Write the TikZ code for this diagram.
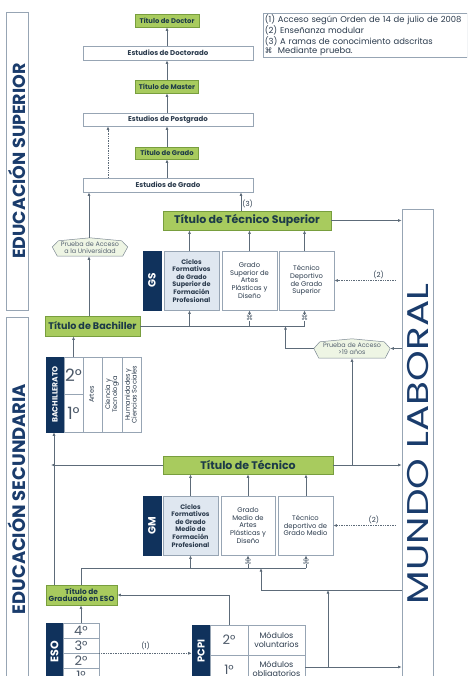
\documentclass[tikz,border=0pt]{standalone}
\usepackage{fontspec}
\setmainfont{Poppins}
\newfontfamily\symf{DejaVu Sans}
\usetikzlibrary{arrows.meta}
\definecolor{navyf}{HTML}{10325C}
\definecolor{navyt}{HTML}{1A3C6C}
\definecolor{greenf}{HTML}{A8CB5E}
\definecolor{greenb}{HTML}{789E3E}
\definecolor{lightf}{HTML}{DFE7F0}
\definecolor{boxc}{HTML}{97A5B4}
\definecolor{linec}{HTML}{5D6B79}
\definecolor{txt}{HTML}{2B3B4D}
\definecolor{gtxt}{HTML}{1C3A48}
\definecolor{hexf}{HTML}{EEF5E4}
\newcommand{\rtx}[1]{\rotatebox{90}{\renewcommand{\arraystretch}{0.8}\begin{tabular}{@{}c@{}}#1\end{tabular}}}
\begin{document}
\begin{tikzpicture}[x=1pt,y=-1pt,
  box/.style={draw=boxc, line width=0.6pt, inner sep=0pt, align=center, text=txt},
  wbox/.style={box, fill=white},
  lbox/.style={box, fill=lightf, font=\bfseries\fontsize{6.5}{7.6}\selectfont},
  rbox/.style={box, fill=white, font=\fontsize{6.8}{7.6}\selectfont},
  ebox/.style={box, fill=white, font=\bfseries\fontsize{7}{7}\selectfont},
  gbox/.style={draw=greenb, fill=greenf, line width=0.6pt, inner sep=0pt, align=center, text=gtxt, font=\bfseries\fontsize{6.8}{7}\selectfont},
  nbox/.style={fill=navyf, draw=navyf, text=white, inner sep=0pt, font=\bfseries},
  cell/.style={box, fill=white, font=\fontsize{14}{14}\selectfont, text=txt!85},
  hexn/.style={inner sep=0pt, align=center, text=txt!80, font=\fontsize{6.4}{6.8}\selectfont},
  hexs/.style={draw=linec!80, fill=hexf, line width=0.5pt},
  ln/.style={draw=linec, line width=0.7pt},
  arr/.style={ln, -{Latex[length=3.6pt,width=3pt]}},
  darr/.style={arr, densely dotted},
  lab/.style={font=\fontsize{7}{7}\selectfont, text=txt, inner sep=1pt},
  mk/.style={font=\symf\fontsize{7}{7}\selectfont, text=linec, fill=white, inner sep=0pt}
]
\useasboundingbox (0,0) rectangle (467,676);
\clip (0,0) rectangle (467,676);
\fill[white] (0,0) rectangle (467,676);

% legend
\node[box, anchor=north west, minimum width=204pt, minimum height=44pt, text width=201pt, align=left,
      font=\fontsize{8.4}{9.4}\selectfont, text=txt] (leg) at (263,13)
  {(1) Acceso según Orden de 14 de julio de 2008\\(2) Enseñanza modular\\(3) A ramas de conocimiento adscritas\\{\symf\fontsize{7.5}{7.5}\selectfont ⌘}\ \ Mediante prueba.};

% side boxes
\node[box, minimum width=22pt, minimum height=298pt] (sup) at (17,161) {};
\node[text=navyt, font=\bfseries\fontsize{17.5}{17.5}\selectfont, inner sep=0pt] (suptxt) at (sup.center) {\rotatebox{90}{EDUCACIÓN SUPERIOR}};
\node[box, minimum width=22pt, minimum height=383pt] (sec) at (17,508.5) {};
\node[text=navyt, font=\bfseries\fontsize{18}{18}\selectfont, inner sep=0pt] (sectxt) at (17,499) {\rotatebox{90}{EDUCACIÓN SECUNDARIA}};
\node[box, minimum width=31pt, minimum height=491pt] (mundo) at (417.5,454.5) {};
\node[text=navyt, font=\fontsize{30}{30}\selectfont, inner sep=0pt] (mundotxt) at (418,444) {\rotatebox{90}{\scalebox{1.3}[1]{MUNDO LABORAL}}};

% university column
\node[gbox, minimum width=64pt, minimum height=13pt] (doc) at (167,20.5) {Título de Doctor};
\node[ebox, minimum width=170pt, minimum height=14pt] (edoc) at (168,53) {Estudios de Doctorado};
\node[gbox, minimum width=63pt, minimum height=13pt] (mas) at (167,86.5) {Título de Master};
\node[ebox, minimum width=170pt, minimum height=13pt] (epos) at (168,119.5) {Estudios de Postgrado};
\node[gbox, minimum width=63pt, minimum height=12pt] (gra) at (167,153) {Título de Grado};
\node[ebox, minimum width=170pt, minimum height=14pt] (egra) at (168,185) {Estudios de Grado};

\draw[arr] (edoc.north -| doc.south) -- (doc.south);
\draw[arr] (mas.north) -- (edoc.south -| mas.north);
\draw[arr] (epos.north -| mas.south) -- (mas.south);
\draw[arr] (gra.north) -- (epos.south -| gra.north);
\draw[arr] (egra.north -| gra.south) -- (gra.south);
\coordinate (dx) at (108,0);
\draw[darr] (egra.north -| dx) -- (epos.south -| dx);

% prueba acceso universidad
\node[hexn, minimum width=75pt, minimum height=18pt] (pua) at (90,247) {};
\path[hexs] (pua.west) -- ([xshift=6pt,yshift=-3pt]pua.north west) -- (pua.north) -- ([xshift=-6pt,yshift=-3pt]pua.north east) -- (pua.east) -- ([xshift=-5pt]pua.south east) -- ([xshift=5pt]pua.south west) -- cycle;
\node[hexn] (puat) at (90,247.5) {Prueba de Acceso\\a la Universidad};

% Tecnico superior
\node[gbox, minimum width=168pt, minimum height=19pt, font=\bfseries\fontsize{11}{11}\selectfont] (tts) at (247,220.5) {Título de Técnico Superior};
\node[nbox, minimum width=18pt, minimum height=59pt, font=\bfseries\fontsize{10.5}{10.5}\selectfont] (gs) at (152,280.5) {\rotatebox{90}{GS}};
\node[lbox, minimum width=55pt, minimum height=59pt] (cgs) at (191.5,280.5) {Ciclos\\Formativos\\de Grado\\Superior de\\Formación\\Profesional};
\node[rbox, minimum width=55pt, minimum height=59pt] (ags) at (249.5,280.5) {Grado\\Superior de\\Artes\\Plásticas y\\Diseño};
\node[rbox, minimum width=55pt, minimum height=59pt] (dgs) at (306.5,280.5) {Técnico\\Deportivo\\de Grado\\Superior};

\coordinate (tx) at (241,0);
\draw[arr] (tts.north -| tx) -- node[lab, right, pos=0.35] {(3)} (egra.south -| tx);
\draw[arr] (tts.east) -- (tts.east -| mundo.west);
\coordinate (c1) at (189.5,0);
\coordinate (c2) at (249.5,0);
\coordinate (c3) at (304.5,0);
\draw[arr] (cgs.north -| c1) -- (tts.south -| c1);
\draw[arr] (ags.north -| c2) -- (tts.south -| c2);
\draw[arr] (dgs.north -| c3) -- (tts.south -| c3);
\draw[darr] ([xshift=-6pt]mundo.west |- dgs.east) -- node[lab, above, pos=0.28] {(2)} (dgs.east);

% Bachiller
\node[gbox, minimum width=95pt, minimum height=20pt, font=\bfseries\fontsize{9.6}{9.6}\selectfont] (bach) at (92.5,326) {Título de Bachiller};
\draw[ln] (bach.east) -- (bach.east -| c3);
\draw[arr] (bach.east -| c1) -- (cgs.south -| c1);
\draw[arr] (bach.east -| c2) -- node[mk] (m1) {⌘} (ags.south -| c2);
\draw[arr] (bach.east -| c3) -- node[mk] (m2) {⌘} (dgs.south -| c3);
\coordinate (lx) at (89,0);
\draw[arr] (bach.north -| lx) -- (pua.south -| lx);
\draw[arr] (pua.north -| lx) -- (egra.south -| lx);

% prueba >19
\node[hexn, minimum width=76pt, minimum height=19pt] (p19) at (352,348.5) {};
\path[hexs] (p19.west) -- ([xshift=6pt,yshift=-3pt]p19.north west) -- (p19.north) -- ([xshift=-6pt,yshift=-3pt]p19.north east) -- (p19.east) -- ([xshift=-5pt]p19.south east) -- ([xshift=5pt]p19.south west) -- cycle;
\node[hexn] (p19t) at (352,349) {Prueba de Acceso\\>19 años};
\draw[arr] (mundo.west |- p19.east) -- (p19.east);
\coordinate (px) at (285.5,0);
\draw[arr] (p19.west) -| (bach.east -| px);

% Bachillerato block
\node[nbox, minimum width=18pt, minimum height=75pt, font=\bfseries\fontsize{7.6}{7.6}\selectfont] (bato) at (55,394.5) {\rotatebox{90}{BACHILLERATO}};
\node[cell, minimum width=19pt, minimum height=37pt, font=\fontsize{17}{17}\selectfont] (b2) at (73.5,375.5) {2°};
\node[cell, minimum width=19pt, minimum height=38pt, font=\fontsize{17}{17}\selectfont] (b1) at (73.5,413) {1°};
\node[box, fill=white, minimum width=19pt, minimum height=75pt, font=\fontsize{6.6}{7}\selectfont] (artes) at (92.5,394.5) {\rtx{Artes}};
\node[box, fill=white, minimum width=20pt, minimum height=75pt, font=\fontsize{6.6}{7}\selectfont] (cyt) at (112,394.5) {\rtx{Ciencia y\\Tecnología}};
\node[box, fill=white, minimum width=19pt, minimum height=75pt, font=\fontsize{6.6}{7}\selectfont] (hcs) at (131.5,394.5) {\rtx{Humanidades y\\Ciencias Sociales}};
\draw[arr] (b2.north) -- (bach.south -| b2.north);

% Tecnico
\node[gbox, minimum width=170pt, minimum height=18pt, font=\bfseries\fontsize{11}{11}\selectfont] (tt) at (248,465) {Título de Técnico};
\node[nbox, minimum width=18pt, minimum height=59pt, font=\bfseries\fontsize{10.5}{10.5}\selectfont] (gm) at (152,525.5) {\rotatebox{90}{GM}};
\node[lbox, minimum width=55pt, minimum height=59pt] (cgm) at (190.5,525.5) {Ciclos\\Formativos\\de Grado\\Medio de\\Formación\\Profesional};
\node[rbox, minimum width=54pt, minimum height=59pt] (agm) at (248,525.5) {Grado\\Medio de\\Artes\\Plásticas y\\Diseño};
\node[rbox, minimum width=55pt, minimum height=59pt] (dgm) at (305.5,525.5) {Técnico\\deportivo de\\Grado Medio};
\coordinate (g1) at (190.5,0);
\coordinate (g2) at (248,0);
\coordinate (g3) at (306,0);
\draw[arr] (cgm.north -| g1) -- (tt.south -| g1);
\draw[arr] (agm.north -| g2) -- (tt.south -| g2);
\draw[arr] (dgm.north -| g3) -- (tt.south -| g3);
\draw[darr] ([xshift=-6pt]mundo.west |- dgm.east) -- node[lab, above, pos=0.35] {(2)} (dgm.east);
\draw[arr] (tt.east) -- (tt.east -| mundo.west);
\draw[arr] (tt.east -| p19.south) -- (p19.south);
\coordinate (vx) at (54,0);
\draw[arr] (tt.west) -- ([xshift=-3pt]tt.west -| vx);

% Graduado ESO
\node[gbox, minimum width=71pt, minimum height=20pt, font=\bfseries\fontsize{7.4}{7.8}\selectfont] (geso) at (81.5,595) {Título de\\Graduado en ESO};
\draw[arr] (geso.north -| vx) -- (bato.south -| vx);
\coordinate (h2) at (0,568);
\draw[ln] (geso.north) -- (geso.north |- h2) -- (h2 -| g3);
\draw[arr] (h2 -| g1) -- (cgm.south -| g1);
\draw[arr] (h2 -| g2) -- node[mk] (m3) {⌘} (agm.south -| g2);
\draw[arr] (h2 -| g3) -- node[mk] (m4) {⌘} (dgm.south -| g3);
\coordinate (mx) at (261,0);
\coordinate (h3) at (0,590);
\draw[arr] (mundo.west |- h3) -| (h2 -| mx);

% ESO
\node[nbox, minimum width=17pt, minimum height=77pt] (eso) at (54.5,661.5) {};
\node[text=white, font=\bfseries\fontsize{11}{11}\selectfont, inner sep=0pt] (esot) at (54.5,652) {\rotatebox{90}{ESO}};
\node[cell, minimum width=36pt, minimum height=15pt, font=\fontsize{13}{13}\selectfont] (e4) at (81,630.5) {4°};
\node[cell, minimum width=36pt, minimum height=15pt, font=\fontsize{13}{13}\selectfont] (e3) at (81,645.5) {3°};
\node[cell, minimum width=36pt, minimum height=15pt, font=\fontsize{13}{13}\selectfont] (e2) at (81,660.5) {2°};
\node[cell, minimum width=36pt, minimum height=15pt, font=\fontsize{13}{13}\selectfont] (e1) at (81,675.5) {1°};
\draw[arr] (e4.north) -- (geso.south -| e4.north);

% PCPI
\node[nbox, minimum width=18pt, minimum height=75pt] (pcpi) at (201,662.5) {};
\node[text=white, font=\bfseries\fontsize{10}{10}\selectfont, inner sep=0pt] (pcpit) at (201,651) {\rotatebox{90}{PCPI}};
\node[cell, minimum width=38pt, minimum height=30pt, font=\fontsize{13}{13}\selectfont] (p2) at (229,640) {2°};
\node[cell, minimum width=38pt, minimum height=30pt, font=\fontsize{13}{13}\selectfont] (p1) at (229,670) {1°};
\node[rbox, minimum width=57pt, minimum height=30pt, font=\fontsize{8}{8.6}\selectfont] (mv) at (276.5,640) {Módulos\\voluntarios};
\node[rbox, minimum width=57pt, minimum height=30pt, font=\fontsize{8}{8.6}\selectfont] (mo) at (276.5,670) {Módulos\\obligatorios};
\draw[arr] (p2.north) |- (geso.east);
\draw[darr] (e3.south east) -- node[lab, above=2pt] {(1)} (e3.south east -| pcpi.west);
\coordinate (py) at (0,667);
\coordinate (qx) at (328,0);
\draw[arr] (mo.east |- py) -- (mundo.west |- py);
\draw[arr] (py -| qx) -- (h3 -| qx);
\end{tikzpicture}
\end{document}
